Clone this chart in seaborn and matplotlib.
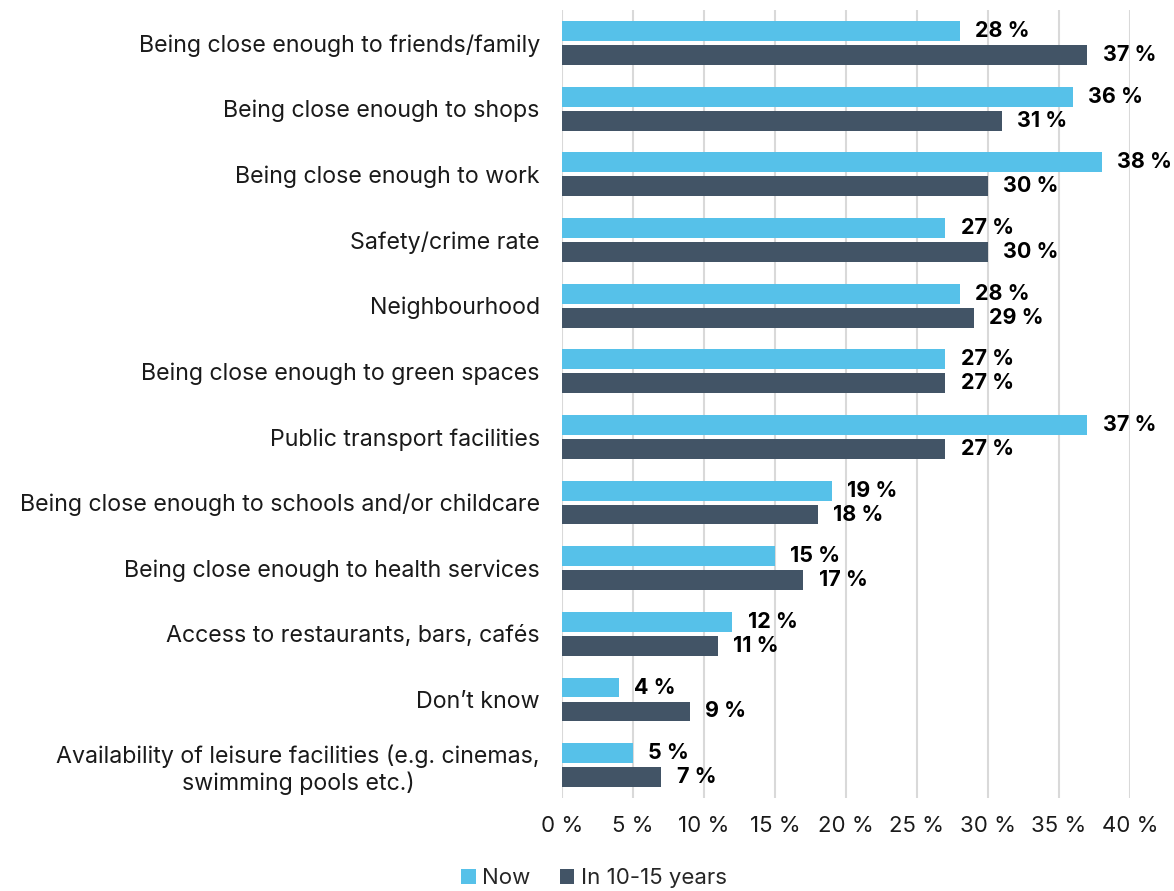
import matplotlib
matplotlib.use("Agg")
import matplotlib.pyplot as plt
from matplotlib.patches import Patch
import pandas as pd
import seaborn as sns

categories = [
    "Being close enough to friends/family",
    "Being close enough to shops",
    "Being close enough to work",
    "Safety/crime rate",
    "Neighbourhood",
    "Being close enough to green spaces",
    "Public transport facilities",
    "Being close enough to schools and/or childcare",
    "Being close enough to health services",
    "Access to restaurants, bars, cafés",
    "Don’t know",
    "Availability of leisure facilities (e.g. cinemas,\nswimming pools etc.)",
]
now_values = [28, 36, 38, 27, 28, 27, 37, 19, 15, 12, 4, 5]
future_values = [37, 31, 30, 30, 29, 27, 27, 18, 17, 11, 9, 7]
series_names = ["Now", "In 10-15 years"]
x_ticks = [0, 5, 10, 15, 20, 25, 30, 35, 40]

colors = {"Now": "#56C1E9", "In 10-15 years": "#425466"}

df = pd.DataFrame({
    "category": categories * 2,
    "series": [series_names[0]] * len(categories) + [series_names[1]] * len(categories),
    "value": now_values + future_values,
})

sns.set_theme(style="white")
plt.rcParams["font.family"] = ["Inter", "DejaVu Sans"]

fig = plt.figure(figsize=(11.74, 8.91), dpi=100)
ax = fig.add_axes([0.4787, 0.1044, 0.9625 - 0.4787, 0.9886 - 0.1044])

sns.barplot(
    data=df, y="category", x="value", hue="series",
    order=categories, hue_order=series_names, palette=colors,
    orient="h", width=0.73, gap=0.17, errorbar=None, legend=False,
    saturation=1, linewidth=0, ax=ax,
)

for container in ax.containers:
    ax.bar_label(container, fmt="{:.0f} %", padding=11, fontsize=15.5,
                 fontweight="bold", color="black")

ax.set_xlim(0, 40)
ax.set_ylim(len(categories) - 0.5, -0.5)
ax.set_xticks(x_ticks)
ax.set_xticklabels([f"{t} %" for t in x_ticks])
ax.xaxis.grid(True, color="#D9D9D9", linewidth=1.5)
ax.set_axisbelow(True)
for s in ax.spines.values():
    s.set_visible(False)
ax.tick_params(axis="x", length=0, pad=13, labelsize=16, colors="#1a1a1a")
ax.tick_params(axis="y", length=0, pad=16, labelsize=16.7, colors="#1a1a1a")
for lbl in ax.get_yticklabels():
    lbl.set_horizontalalignment("right")
    lbl.set_multialignment("center")
ax.set_xlabel("")
ax.set_ylabel("")

handles = [Patch(facecolor=colors[n], edgecolor="none", label=n) for n in series_names]
fig.legend(handles=handles, loc="center", bbox_to_anchor=(0.506, 0.0146),
           ncol=2, frameon=False, fontsize=16, handlelength=0.65,
           handleheight=0.65, handletextpad=0.3, columnspacing=1.3)

fig.savefig("out.png", dpi=100)
